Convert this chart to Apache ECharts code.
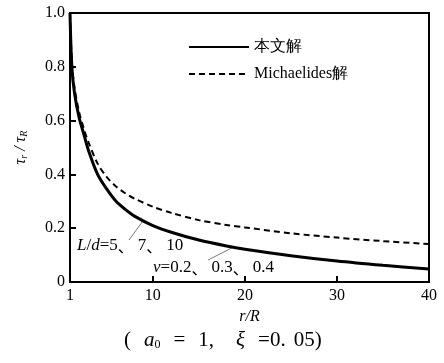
<!DOCTYPE html>
<html><head><meta charset="utf-8">
<script src="https://cdn.jsdelivr.net/npm/echarts@6/dist/echarts.min.js"></script>
<style>html,body{margin:0;padding:0;background:#fff}#c{width:444px;height:363px}</style>
</head><body><div id="c"></div>
<script>
var rValues = [1, 1.2, 1.5, 2, 2.5, 3, 4, 5, 6, 7, 8, 10, 12, 15, 18, 20, 25, 30, 35, 40];
var thisSolution = [1.0, 0.80, 0.70, 0.61, 0.55, 0.49, 0.40, 0.345, 0.30, 0.27, 0.245, 0.21, 0.185, 0.156, 0.134, 0.122, 0.098, 0.078, 0.062, 0.048];
var michaelides = [1.0, 0.82, 0.72, 0.63, 0.57, 0.52, 0.44, 0.39, 0.355, 0.33, 0.31, 0.28, 0.257, 0.230, 0.212, 0.203, 0.181, 0.165, 0.152, 0.141];
var xTickLabels = [1, 10, 20, 30, 40];
var xTicks = [10, 20, 30];
var seriesNames = ['本文解', 'Michaelides解'];

var serif = '"Liberation Serif", "Times New Roman", serif';
function pairs(ys){ return rValues.map(function(r,i){return [r, ys[i]];}); }

var chart = echarts.init(document.getElementById('c'), null, {renderer:'canvas'});
var option = {
  animation: false,
  backgroundColor: '#fff',
  grid: {left: 70, right: 15, top: 13, bottom: 81, show: true, borderColor: '#000', borderWidth: 2, backgroundColor: 'transparent'},
  legend: {
    orient: 'vertical', left: 183, top: 34, itemWidth: 60, itemHeight: 14, itemGap: 11,
    data: seriesNames,
    itemStyle: {opacity: 0},
    textStyle: {fontFamily: serif, fontSize: 16, color: '#000'}
  },
  xAxis: {
    type: 'value', min: 1, max: 40,
    name: 'r/R', nameLocation: 'middle', nameGap: 24,
    nameTextStyle: {fontFamily: serif, fontStyle: 'italic', fontSize: 16, color: '#000'},
    axisLine: {lineStyle: {color: '#000', width: 2}},
    axisTick: {show: true, inside: true, length: 6, customValues: xTicks, lineStyle: {color: '#000', width: 2}},
    axisLabel: {customValues: xTickLabels, fontFamily: serif, fontSize: 16, color: '#000', margin: 6},
    splitLine: {show: false}
  },
  yAxis: {
    type: 'value', min: 0, max: 1, interval: 0.2,
    name: '{t|τ}{s|r}{t| / τ}{s|R}', nameLocation: 'middle', nameGap: 41, nameRotate: 90,
    nameTextStyle: {rich: {
      t: {fontFamily: serif, fontStyle: 'italic', fontSize: 16, color: '#000'},
      s: {fontFamily: serif, fontStyle: 'italic', fontSize: 10, color: '#000', padding: [6,0,0,0]}
    }},
    axisLine: {lineStyle: {color: '#000', width: 2}},
    axisTick: {show: true, inside: true, length: 6, lineStyle: {color: '#000', width: 2}},
    axisLabel: {fontFamily: serif, fontSize: 16, color: '#000', margin: 5,
      formatter: function(v){ return v === 0 ? '0' : v.toFixed(1); }},
    splitLine: {show: false}
  },
  series: [
    {name: seriesNames[0], type: 'line', data: pairs(thisSolution), symbol: 'none', smooth: 0.3,
     lineStyle: {color: '#000', width: 3, type: 'solid'}, itemStyle: {color: '#000'}},
    {name: seriesNames[1], type: 'line', data: pairs(michaelides), symbol: 'none', smooth: 0.3,
     lineStyle: {color: '#000', width: 2, type: [6, 4]}, itemStyle: {color: '#000'}}
  ]
};
chart.setOption(option);

function px(x, y){ return chart.convertToPixel({gridIndex: 0}, [x, y]); }
var c1 = px(8.95, 0.228);
var c2 = px(18.6, 0.127);
var richAnn = {i: {fontFamily: serif, fontStyle: 'italic', fontSize: 17, fill: '#000'},
               n: {fontFamily: serif, fontSize: 17, fill: '#000'},
               c: {fontFamily: '"Noto Sans CJK SC"', fontSize: 16, fill: '#000', width: 20}};
chart.setOption({graphic: [
  {type: 'text', left: 77, top: 237, style: {text: '{i|L}{n|/}{i|d}{n|=5}{c|、}{n|7}{c|、}{n|10}', rich: richAnn}},
  {type: 'line', shape: {x1: 129, y1: 240, x2: c1[0], y2: c1[1]}, style: {stroke: '#555', lineWidth: 0.8}},
  {type: 'text', left: 153, top: 259, style: {text: '{i|ν}{n|=0.2}{c|、}{n|0.3}{c|、}{n|0.4}', rich: richAnn}},
  {type: 'line', shape: {x1: 208, y1: 260, x2: c2[0], y2: c2[1]}, style: {stroke: '#555', lineWidth: 0.8}},
  {type: 'text', left: 124, top: 330, style: {
    text: '{n|(}{g| }{i|a}{s|0}{g| }{n|=}{g| }{n|1,}{w| }{i|ξ}{g| }{n|=0.}{h| }{n|05)}',
    rich: {i: {fontFamily: serif, fontStyle: 'italic', fontSize: 21, fill: '#000'},
           n: {fontFamily: serif, fontSize: 21, fill: '#000'},
           g: {fontFamily: serif, fontSize: 21, width: 13},
           w: {fontFamily: serif, fontSize: 21, width: 22},
           h: {fontFamily: serif, fontSize: 21, width: 8},
           s: {fontFamily: serif, fontSize: 12, fill: '#000', padding: [9,0,0,0]}}}}
]});
</script></body></html>
